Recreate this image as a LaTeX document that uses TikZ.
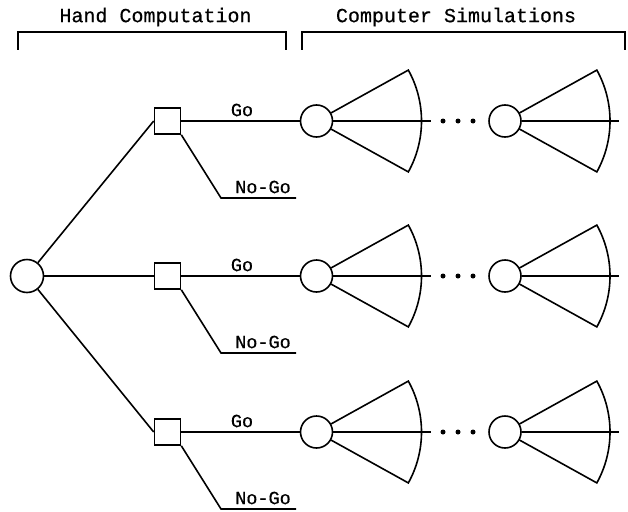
\documentclass[tikz,border=0pt]{standalone}
\usepackage{fontspec}
\newfontfamily\typewriter[FakeBold=0.5]{Liberation Mono}
\usetikzlibrary{calc}
\begin{document}
\begin{tikzpicture}[x=1pt,y=-1pt,line width=1.6pt,
  chance/.style={circle,draw,minimum size=33pt,inner sep=0pt},
  decision/.style={rectangle,draw,minimum size=26pt,inner sep=0pt},
  simnode/.style={circle,draw,minimum size=32pt,inner sep=0pt},
  head/.style={font=\typewriter\fontsize{20}{20}\selectfont,inner sep=0pt},
  lab/.style={font=\typewriter\fontsize{18.5}{18.5}\selectfont,inner sep=0pt},
  ellipsisdot/.style={circle,fill,inner sep=0pt,minimum size=5pt}]
\useasboundingbox (0,0) rectangle (628,511);

% column headings with their brackets
\node[head] (hand) at (155.5,17) {Hand Computation};
\node[head] (sim) at (456,17) {Computer Simulations};
\draw (18,50) -- (18,32) -- (286,32) -- (286,50);
\draw (302,50) -- (302,32) -- (625,32) -- (625,50);

% root chance node
\node[chance] (root) at (27,276) {};

\foreach \i/\y in {1/121,2/276,3/432}{
  % decision node and its branches
  \node[decision] (d\i) at (167.5,\y) {};
  \draw (root) -- (d\i.west);
  \node[simnode] (a\i) at (316.5,\y) {};
  \node[simnode] (b\i) at (505,\y) {};
  \draw (d\i) -- (a\i);
  \node[lab] (go\i) at (242,\y-11) {Go};
  \coordinate (k\i) at (221,\y+77);
  \coordinate (e\i) at (296,\y+77);
  \draw (d\i.south east) -- (k\i) -- (e\i);
  \node[lab] (nogo\i) at (263,\y+66) {No-Go};
  % simulation fans
  \foreach \s in {a,b}{
    \draw ($(\s\i.center)+(-29:16.5)$) -- ($(\s\i.center)+(-29:105)$)
      arc[start angle=-29,end angle=29,radius=105]
      -- ($(\s\i.center)+(29:16.5)$);
    \draw (\s\i.east) -- ($(\s\i.center)+(114,0)$);
  }
  % ellipsis between the two simulations
  \node[ellipsisdot] (p\i) at ($(a\i.center)+(126.5,0)$) {};
  \node[ellipsisdot] (q\i) at ($(a\i.center)+(141.5,0)$) {};
  \node[ellipsisdot] (r\i) at ($(a\i.center)+(156.5,0)$) {};
}
\end{tikzpicture}
\end{document}
